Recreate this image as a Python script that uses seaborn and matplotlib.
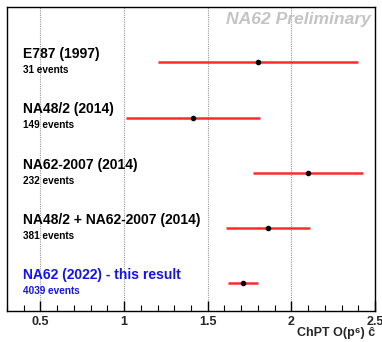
import matplotlib
matplotlib.use("Agg")
import matplotlib.pyplot as plt
import seaborn as sns
import pandas as pd
from matplotlib.ticker import MultipleLocator

# Measurements of the ChPT O(p^6) parameter c-hat
experiments = ["E787 (1997)", "NA48/2 (2014)", "NA62-2007 (2014)",
               "NA48/2 + NA62-2007 (2014)", "NA62 (2022) - this result"]
event_labels = ["31 events", "149 events", "232 events", "381 events", "4039 events"]
c_hat = [1.80, 1.41, 2.10, 1.86, 1.713]
c_err = [0.60, 0.40, 0.33, 0.25, 0.09]
row_pos = [5, 4, 3, 2, 1]
label_colors = ["black", "black", "black", "black", "#1010ff"]

df = pd.DataFrame({"experiment": experiments, "c_hat": c_hat,
                   "err": c_err, "row": row_pos})

sns.set_theme(style="white")
plt.rcParams["font.family"] = ["Liberation Sans", "DejaVu Sans"]

fig = plt.figure(figsize=(3.82, 3.42), dpi=100)
ax = fig.add_axes([0.0183, 0.0915, 0.9634, 0.8872])

ax.errorbar(df["c_hat"], df["row"], xerr=df["err"], fmt="none",
            ecolor="#ff2a2a", elinewidth=1.8, capsize=0, zorder=2)
sns.scatterplot(data=df, x="c_hat", y="row", color="black", s=16,
                edgecolor="black", linewidth=0, zorder=3, ax=ax, legend=False)

for name, ev, y, col in zip(experiments, event_labels, row_pos, label_colors):
    ax.text(0.397, y + 0.15, name, color=col, fontsize=10, fontweight="bold",
            ha="left", va="center")
    ax.text(0.397, y - 0.14, ev, color=col, fontsize=7.2, fontweight="bold",
            ha="left", va="center")

ax.text(0.99, 0.985, "NA62 Preliminary", transform=ax.transAxes,
        ha="right", va="top", fontsize=12.6, fontweight="bold",
        fontstyle="italic", color="#c4c4c4")

ax.set_xlim(0.3, 2.5)
ax.set_ylim(0.5, 6.0)
ax.xaxis.set_major_locator(MultipleLocator(0.5))
ax.xaxis.set_minor_locator(MultipleLocator(0.1))
ax.set_yticks([])
ax.set_xticks([0.5, 1.0, 1.5, 2.0, 2.5])
ax.set_xticklabels(["0.5", "1", "1.5", "2", "2.5"])
ax.tick_params(axis="x", which="major", direction="in", length=7, width=1,
               labelsize=9, pad=4, bottom=True, top=False, color="black")
ax.tick_params(axis="x", which="minor", direction="in", length=4, width=0.8,
               bottom=True, top=False, color="black")
for lbl in ax.get_xticklabels():
    lbl.set_fontweight("bold")

ax.grid(axis="x", which="major", color="#9a9a9a", linestyle=(0, (1, 1)),
        linewidth=0.8)
ax.set_axisbelow(True)
for sp in ax.spines.values():
    sp.set_color("black")
    sp.set_linewidth(1.0)

ax.set_xlabel("ChPT O(p\u2076) \u0109", fontsize=9, fontweight="bold")
ax.xaxis.set_label_coords(1.0, -0.055)
ax.xaxis.label.set_horizontalalignment("right")
ax.xaxis.label.set_verticalalignment("top")
ax.set_ylabel("")

fig.savefig("out.png", dpi=100)
